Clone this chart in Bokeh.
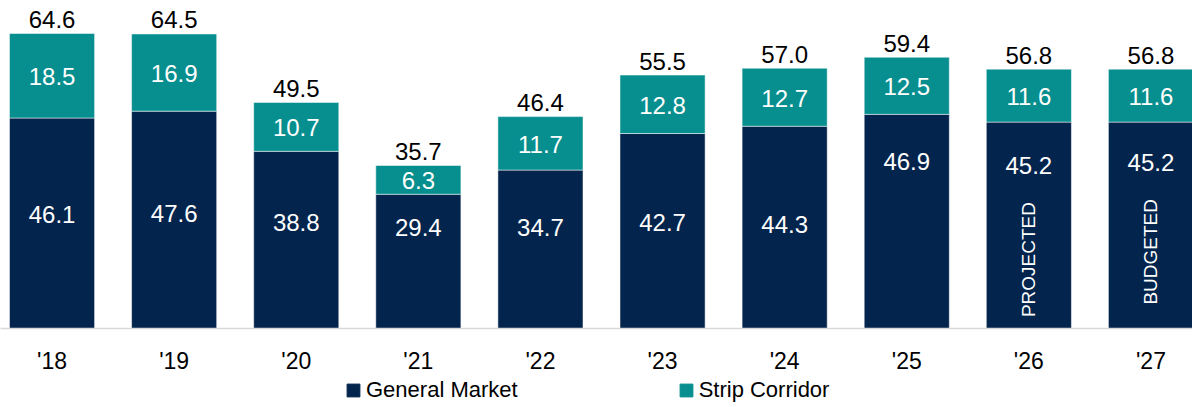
import math
from bokeh.plotting import figure
from bokeh.layouts import column
from bokeh.models import ColumnDataSource, Range1d, FixedTicker, Legend, LegendItem
from bokeh.core.properties import value
from bokeh.embed import file_html
from bokeh.resources import INLINE

# ---- data ----
years = ["'18", "'19", "'20", "'21", "'22", "'23", "'24", "'25", "'26", "'27"]
general_market = [46.1, 47.6, 38.8, 29.4, 34.7, 42.7, 44.3, 46.9, 45.2, 45.2]
strip_corridor = [18.5, 16.9, 10.7, 6.3, 11.7, 12.8, 12.7, 12.5, 11.6, 11.6]
gm_label_at = [25.1, 25.3, 23.4, 22.3, 22.3, 23.4, 22.9, 36.9, 36.0, 36.5]
note_years = ["'26", "'27"]
note_texts = ["PROJECTED", "BUDGETED"]
note_at = [15.1, 16.8]
series_names = ["General Market", "Strip Corridor"]

NAVY = "#03244C"
TEAL = "#078E8E"
COLORS = [NAVY, TEAL]
FONT = "Liberation Sans"

xs = list(range(len(years)))
totals = [round(g + s, 1) for g, s in zip(general_market, strip_corridor)]
src = ColumnDataSource(dict(
    x=xs,
    gm=general_market,
    sc=strip_corridor,
    total=totals,
    total_txt=[f"{t:.1f}" for t in totals],
    gm_txt=[f"{v:.1f}" for v in general_market],
    sc_txt=[f"{v:.1f}" for v in strip_corridor],
    gm_y=gm_label_at,
    sc_y=[g + s / 2 for g, s in zip(general_market, strip_corridor)],
))

p = figure(width=1192, height=376, x_range=Range1d(-0.4221, 9.3402),
           y_range=Range1d(0, 71.83), output_backend="svg", toolbar_location=None,
           y_axis_location=None, title=None,
           min_border_left=0, min_border_right=0, min_border_top=0,
           min_border_bottom=47, outline_line_color=None)
p.xgrid.visible = False
p.ygrid.visible = False

rs = p.vbar_stack(["gm", "sc"], x="x", width=0.697, color=COLORS,
                  line_color="white", line_width=0.5, source=src)

# value labels
p.text(x="x", y="total", text="total_txt", source=src, text_align="center",
       text_baseline="middle", y_offset=-14, text_color="black",
       text_font=value(FONT), text_font_size="24px")
p.text(x="x", y="sc_y", text="sc_txt", source=src, text_align="center",
       text_baseline="middle", y_offset=1, text_color="white",
       text_font=value(FONT), text_font_size="24px")
p.text(x="x", y="gm_y", text="gm_txt", source=src, text_align="center",
       text_baseline="middle", y_offset=1, text_color="white",
       text_font=value(FONT), text_font_size="24px")

note_src = ColumnDataSource(dict(
    x=[years.index(y) for y in note_years], y=note_at, text=note_texts))
p.text(x="x", y="y", text="text", source=note_src, angle=math.pi / 2,
       text_align="center", text_baseline="middle", text_color="white",
       text_font=value(FONT), text_font_size="19px")

ax = p.xaxis[0]
ax.ticker = FixedTicker(ticks=xs)
ax.major_label_overrides = {i: y for i, y in zip(xs, years)}
ax.major_tick_line_color = None
ax.minor_tick_line_color = None
ax.major_tick_out = 0
ax.axis_line_color = "#D9D9D9"
ax.axis_line_width = 1.5
ax.major_label_standoff = 19
ax.major_label_text_font = FONT
ax.major_label_text_font_size = "23px"
ax.major_label_text_color = "black"

# legend strip (separate small figure below the chart)
q = figure(width=1192, height=31, x_range=Range1d(-0.4221, 9.3402), y_range=Range1d(0, 71.83),
           output_backend="svg", toolbar_location=None, title=None,
           x_axis_location=None, y_axis_location=None,
           min_border_left=0, min_border_right=0, min_border_top=0,
           min_border_bottom=0, outline_line_color=None)
q.xgrid.visible = False
q.ygrid.visible = False
lrs = q.vbar_stack(["gm", "sc"], x="x", width=0.697, color=COLORS, source=src)
for r in lrs:
    r.visible = False
lg = Legend(items=[LegendItem(label=n, renderers=[r]) for n, r in zip(series_names, lrs)])
lg.orientation = "horizontal"
lg.location = (345, 4)
lg.padding = 0
lg.margin = 0
lg.border_line_color = None
lg.background_fill_alpha = 0
lg.glyph_width = 16
lg.glyph_height = 16
lg.label_standoff = 5
lg.spacing = 160
lg.label_text_font = FONT
lg.label_text_font_size = "22px"
lg.label_text_color = "black"
lg.click_policy = "none"
q.add_layout(lg)

layout = column(p, q, spacing=0)
open("out.html", "w").write(file_html(layout, INLINE))
